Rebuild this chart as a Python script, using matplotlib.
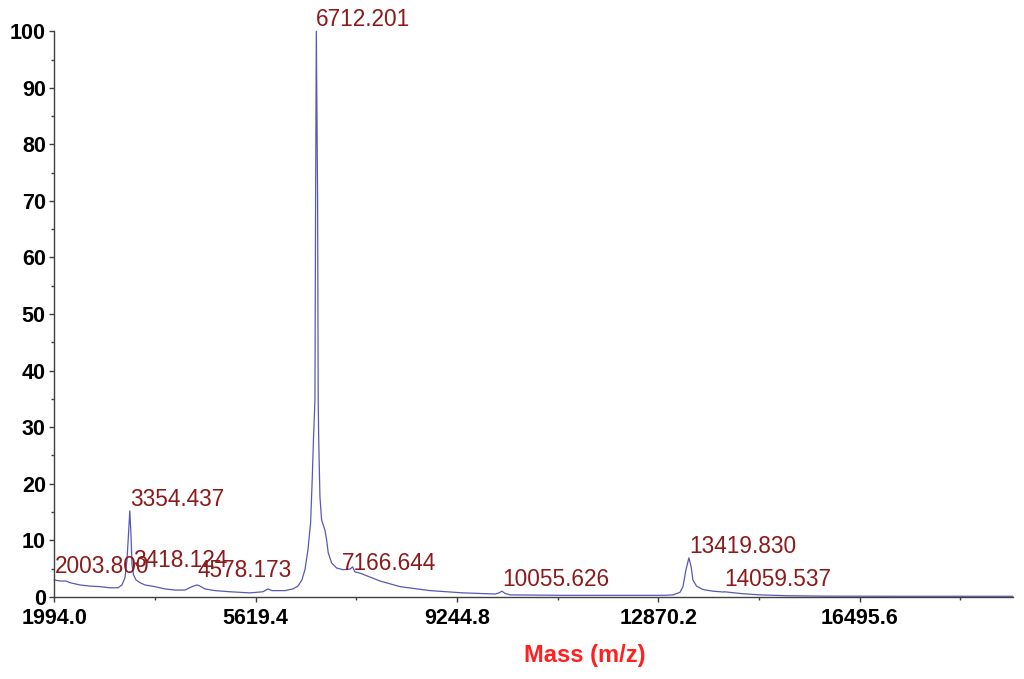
import matplotlib
matplotlib.use("Agg")
import matplotlib.pyplot as plt

plt.rcParams['font.family'] = ['Liberation Sans', 'DejaVu Sans']

# spectrum trace (mass, relative intensity %)
mass = [1994, 2097, 2205, 2277, 2457, 2637, 2817, 2997, 3141, 3213,
        3267, 3303, 3330, 3354, 3375, 3393, 3420, 3465, 3537, 3627,
        3807, 3987, 4167, 4347, 4473, 4563, 4617, 4707, 4887, 5157,
        5517, 5751, 5841, 5913, 6147, 6291, 6381, 6453, 6507, 6561,
        6609, 6638, 6660, 6687, 6699, 6712, 6735, 6746, 6755, 6777,
        6807, 6867, 6897, 6926, 6987, 7077, 7191, 7317, 7365, 7407,
        7497, 7677, 7858, 8040, 8220, 8760, 9354, 9930, 10001, 10055,
        10109, 10199, 11099, 12179, 12989, 13133, 13259, 13313, 13367, 13420,
        13464, 13491, 13557, 13671, 13851, 14049, 14060, 14192, 14390, 14696,
        15182, 15902, 17090, 18296, 19250]
intensity = [3.0, 2.8, 2.8, 2.5, 2.1, 1.9, 1.8, 1.6, 1.6, 2.1,
             3.4, 6.5, 11.0, 15.2, 11.0, 5.7, 3.9, 3.0, 2.5, 2.1,
             1.8, 1.4, 1.2, 1.2, 1.8, 2.1, 1.9, 1.4, 1.1, 0.9,
             0.7, 0.9, 1.4, 1.1, 1.1, 1.4, 1.9, 3.0, 4.8, 8.3,
             13.1, 20.7, 27.7, 34.8, 70.1, 100.0, 70.1, 34.8, 27.7, 17.7,
             13.6, 11.8, 10.1, 7.8, 6.0, 5.1, 4.8, 4.9, 5.3, 4.4,
             4.2, 3.5, 2.8, 2.3, 1.8, 1.1, 0.7, 0.5, 0.7, 1.0,
             0.6, 0.35, 0.27, 0.27, 0.27, 0.35, 0.8, 1.8, 4.8, 6.9,
             5.1, 3.0, 1.9, 1.3, 1.0, 0.85, 0.9, 0.75, 0.55, 0.35,
             0.2, 0.12, 0.1, 0.1, 0.1]

# peak labels
peak_labels = ['2003.800', '3354.437', '3418.124', '4578.173', '6712.201',
               '7166.644', '10055.626', '13419.830', '14059.537']
peak_mass = [2003.8, 3354.437, 3418.124, 4578.173, 6712.201,
             7166.644, 10055.626, 13419.830, 14059.537]
label_height = [4.2, 16.1, 5.3, 3.5, 100.9, 4.8, 1.9, 7.8, 1.9]

xticks = [1994.0, 5619.4, 9244.8, 12870.2, 16495.6]
xtick_labels = ['1994.0', '5619.4', '9244.8', '12870.2', '16495.6']
xminor = [3806.7, 7432.1, 11057.5, 14682.9, 18308.3]
yticks = [0, 10, 20, 30, 40, 50, 60, 70, 80, 90, 100]
yminor = [5, 15, 25, 35, 45, 55, 65, 75, 85, 95]

fig = plt.figure(figsize=(10.24, 6.79), dpi=100)
ax = fig.add_axes([0.053, 0.121, 0.936, 0.833])

ax.plot(mass, intensity, color='#5858b8', linewidth=0.9, clip_on=False)

for lab, m, h in zip(peak_labels, peak_mass, label_height):
    ax.text(m, h, lab, color='#8b1a1a', fontsize=16.3, ha='left', va='baseline',
            clip_on=False)

ax.set_xlim(1994.0, 19250)
ax.set_ylim(0, 100)
ax.set_xticks(xticks)
ax.set_xticklabels(xtick_labels)
ax.set_xticks(xminor, minor=True)
ax.set_yticks(yticks)
ax.set_yticks(yminor, minor=True)

for s in ['top', 'right']:
    ax.spines[s].set_visible(False)
for s in ['left', 'bottom']:
    ax.spines[s].set_color('#404040')
    ax.spines[s].set_linewidth(1.0)

ax.tick_params(which='major', direction='out', length=3.6, width=1, color='#404040',
               labelsize=15.5, pad=2.5)
ax.tick_params(axis='x', which='major', pad=4.5)
ax.tick_params(which='minor', direction='out', length=2.2, width=1, color='#404040')
for t in ax.get_xticklabels() + ax.get_yticklabels():
    t.set_fontweight('bold')

fig.text(0.571, 0.035, 'Mass (m/z)', color='#ff2020', fontsize=17,
         fontweight='bold', ha='center', va='center')

fig.savefig('out.png', dpi=100)
